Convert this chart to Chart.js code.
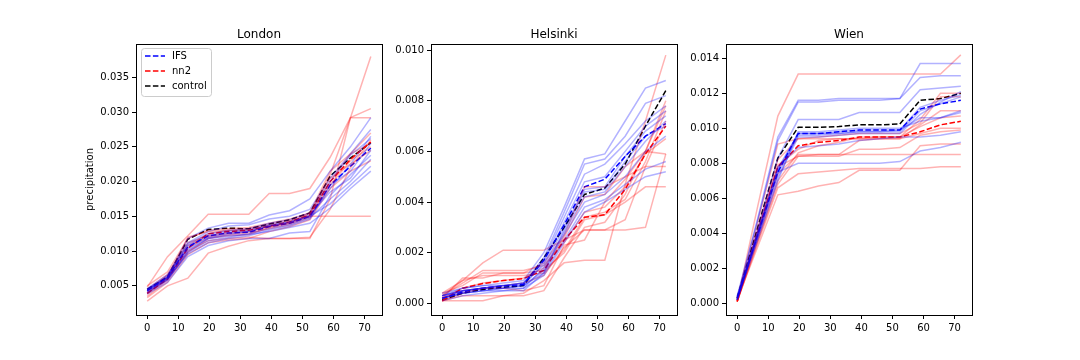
<!DOCTYPE html>
<html>
<head>
<meta charset="utf-8">
<script src="https://cdn.jsdelivr.net/npm/chart.js@4"></script>
<style>
  body { margin: 0; background: #fff; width: 1080px; height: 360px; overflow: hidden; }
  .panel { position: absolute; top: 0; }
</style>
</head>
<body>
<div class="panel" style="left:80px"><canvas id="london" width="312" height="360"></canvas></div>
<div class="panel" style="left:395px"><canvas id="helsinki" width="292" height="360"></canvas></div>
<div class="panel" style="left:690px"><canvas id="wien" width="292" height="360"></canvas></div>
<script>
// lead times (hours)
const hours = [0, 6.55, 13.09, 19.64, 26.18, 32.73, 39.27, 45.82, 52.36, 58.91, 65.45, 72];

// London
const londonIFS = [
  [0.0045,0.0064,0.0118,0.0133,0.0140,0.0140,0.0152,0.0158,0.0175,0.0215,0.0250,0.0292],
  [0.0043,0.0062,0.0112,0.0128,0.0136,0.0138,0.0146,0.0150,0.0160,0.0205,0.0240,0.0275],
  [0.0040,0.0058,0.0100,0.0118,0.0124,0.0128,0.0136,0.0142,0.0150,0.0190,0.0225,0.0265],
  [0.0046,0.0066,0.0110,0.0125,0.0130,0.0132,0.0140,0.0145,0.0155,0.0200,0.0238,0.0262],
  [0.0042,0.0060,0.0096,0.0112,0.0118,0.0122,0.0130,0.0136,0.0146,0.0195,0.0215,0.0255],
  [0.0044,0.0063,0.0108,0.0122,0.0128,0.0130,0.0138,0.0142,0.0152,0.0185,0.0205,0.0245],
  [0.0038,0.0055,0.0092,0.0108,0.0115,0.0118,0.0118,0.0126,0.0128,0.0180,0.0210,0.0238],
  [0.0041,0.0059,0.0098,0.0115,0.0120,0.0125,0.0132,0.0138,0.0148,0.0175,0.0200,0.0232],
  [0.0045,0.0062,0.0105,0.0120,0.0126,0.0128,0.0136,0.0140,0.0150,0.0168,0.0195,0.0222],
  [0.0043,0.0061,0.0102,0.0118,0.0122,0.0124,0.0128,0.0134,0.0140,0.0162,0.0190,0.0215]
];
const londonNN2 = [
  [0.0028,0.0050,0.0061,0.0097,0.0107,0.0115,0.0118,0.0118,0.0118,0.0175,0.0292,0.0380],
  [0.0048,0.0092,0.0122,0.0153,0.0153,0.0153,0.0183,0.0183,0.0190,0.0235,0.0292,0.0305],
  [0.0040,0.0062,0.0120,0.0128,0.0130,0.0130,0.0136,0.0140,0.0150,0.0150,0.0150,0.0150],
  [0.0035,0.0058,0.0098,0.0118,0.0122,0.0124,0.0134,0.0140,0.0152,0.0210,0.0292,0.0292],
  [0.0042,0.0065,0.0108,0.0125,0.0130,0.0132,0.0138,0.0144,0.0150,0.0200,0.0240,0.0270],
  [0.0038,0.0060,0.0100,0.0115,0.0118,0.0120,0.0118,0.0118,0.0120,0.0160,0.0220,0.0260],
  [0.0050,0.0070,0.0118,0.0130,0.0132,0.0134,0.0140,0.0146,0.0155,0.0205,0.0225,0.0245],
  [0.0033,0.0055,0.0095,0.0112,0.0116,0.0118,0.0128,0.0135,0.0145,0.0190,0.0215,0.0230],
  [0.0045,0.0066,0.0112,0.0122,0.0126,0.0128,0.0135,0.0142,0.0155,0.0215,0.0240,0.0255],
  [0.0039,0.0061,0.0104,0.0120,0.0124,0.0126,0.0132,0.0138,0.0148,0.0195,0.0230,0.0250]
];
const londonIfsMean = [0.0043,0.0062,0.0106,0.0122,0.0126,0.0127,0.0135,0.0140,0.0150,0.0195,0.0222,0.0248];
const londonNn2Mean = [0.0039,0.0060,0.0104,0.0125,0.0128,0.0130,0.0136,0.0142,0.0152,0.0200,0.0232,0.0257];
const londonControl = [0.0045,0.0063,0.0117,0.0131,0.0133,0.0132,0.0139,0.0145,0.0155,0.0208,0.0234,0.0256];

// Helsinki
const helsinkiIFS = [
  [0.0003,0.0006,0.0007,0.0008,0.0009,0.0020,0.0038,0.0057,0.0059,0.0072,0.0085,0.0088],
  [0.0002,0.0005,0.0006,0.0007,0.0008,0.0018,0.0036,0.0055,0.0057,0.0066,0.0079,0.0082],
  [0.0003,0.0005,0.0006,0.0007,0.0008,0.0017,0.0034,0.0051,0.0055,0.0063,0.0072,0.0078],
  [0.0002,0.0004,0.0005,0.0006,0.0007,0.0016,0.0032,0.0048,0.0050,0.0060,0.0070,0.0076],
  [0.0004,0.0006,0.0007,0.0007,0.0008,0.0015,0.0030,0.0045,0.0046,0.0058,0.0068,0.0074],
  [0.0002,0.0004,0.0005,0.0006,0.0006,0.0014,0.0028,0.0042,0.0044,0.0054,0.0064,0.0072],
  [0.0003,0.0005,0.0006,0.0006,0.0007,0.0013,0.0027,0.0040,0.0043,0.0050,0.0060,0.0066],
  [0.0001,0.0003,0.0004,0.0005,0.0005,0.0012,0.0025,0.0038,0.0041,0.0047,0.0053,0.0056],
  [0.0002,0.0004,0.0005,0.0005,0.0006,0.0011,0.0024,0.0036,0.0040,0.0045,0.0050,0.0052],
  [0.0003,0.0005,0.0006,0.0007,0.0007,0.0012,0.0029,0.0044,0.0045,0.0056,0.0066,0.0070]
];
const helsinkiNN2 = [
  [0.0001,0.0003,0.0003,0.0003,0.0004,0.0009,0.0016,0.0017,0.0017,0.0047,0.0072,0.0098],
  [0.0004,0.0009,0.0016,0.0021,0.0021,0.0021,0.0025,0.0029,0.0029,0.0029,0.0030,0.0059],
  [0.0002,0.0010,0.0010,0.0012,0.0012,0.0013,0.0020,0.0033,0.0035,0.0040,0.0046,0.0046],
  [0.0003,0.0008,0.0013,0.0013,0.0013,0.0015,0.0024,0.0036,0.0038,0.0046,0.0059,0.0065],
  [0.0001,0.0001,0.0001,0.0003,0.0003,0.0005,0.0018,0.0030,0.0032,0.0043,0.0060,0.0078],
  [0.0004,0.0007,0.0012,0.0012,0.0012,0.0016,0.0027,0.0046,0.0046,0.0050,0.0054,0.0054],
  [0.0002,0.0006,0.0008,0.0009,0.0010,0.0014,0.0026,0.0042,0.0043,0.0054,0.0060,0.0059],
  [0.0001,0.0004,0.0006,0.0007,0.0008,0.0011,0.0022,0.0029,0.0029,0.0033,0.0054,0.0072],
  [0.0003,0.0009,0.0011,0.0011,0.0011,0.0012,0.0021,0.0034,0.0036,0.0041,0.0056,0.0076],
  [0.0002,0.0005,0.0006,0.0006,0.0005,0.0007,0.0023,0.0025,0.0040,0.0049,0.0060,0.0080]
];
const helsinkiIfsMean = [0.0002,0.00045,0.0006,0.00068,0.00075,0.0017,0.0031,0.0046,0.0049,0.0058,0.0066,0.0071];
const helsinkiNn2Mean = [0.0001,0.0006,0.00078,0.0009,0.00098,0.0013,0.0025,0.0034,0.0035,0.0045,0.0059,0.0070];
const helsinkiControl = [0.00013,0.0004,0.00055,0.00063,0.0007,0.0018,0.0030,0.0043,0.00455,0.0055,0.0070,0.0084];

// Wien
const wienIFS = [
  [0.0004,0.0048,0.0095,0.0116,0.0116,0.0117,0.0117,0.0117,0.0117,0.0137,0.0137,0.0137],
  [0.0003,0.0047,0.0093,0.0115,0.0115,0.0116,0.0116,0.0116,0.0117,0.0129,0.0130,0.0130],
  [0.0002,0.0042,0.0083,0.0105,0.0105,0.0105,0.0109,0.0109,0.0109,0.0122,0.0123,0.0124],
  [0.0003,0.0038,0.0075,0.0080,0.0080,0.0080,0.0080,0.0080,0.0081,0.0087,0.0089,0.0092],
  [0.0002,0.0040,0.0078,0.0089,0.0090,0.0091,0.0093,0.0094,0.0095,0.0095,0.0096,0.0098],
  [0.0004,0.0040,0.0076,0.0097,0.0097,0.0098,0.0099,0.0099,0.0099,0.0106,0.0106,0.0109],
  [0.0002,0.0038,0.0074,0.0096,0.0096,0.0097,0.0098,0.0098,0.0098,0.0110,0.0114,0.0118],
  [0.0003,0.0037,0.0072,0.0095,0.0095,0.0096,0.0097,0.0097,0.0097,0.0108,0.0115,0.0121],
  [0.0002,0.0036,0.0070,0.0098,0.0098,0.0099,0.0100,0.0100,0.0100,0.0104,0.0106,0.0110],
  [0.0003,0.0039,0.0077,0.0097,0.0097,0.0097,0.0098,0.0098,0.0099,0.0112,0.0116,0.0119]
];
const wienNN2 = [
  [0.0001,0.0055,0.0107,0.0131,0.0131,0.0131,0.0131,0.0131,0.0131,0.0131,0.0131,0.0142],
  [0.0002,0.0032,0.0062,0.0064,0.0067,0.0069,0.0076,0.0076,0.0076,0.0090,0.0091,0.0091],
  [0.0001,0.0034,0.0066,0.0074,0.0075,0.0076,0.0077,0.0077,0.0077,0.0077,0.0078,0.0078],
  [0.0003,0.0046,0.0091,0.0094,0.0094,0.0094,0.0094,0.0094,0.0094,0.0097,0.0100,0.0100],
  [0.0002,0.0040,0.0078,0.0084,0.0085,0.0085,0.0085,0.0085,0.0085,0.0085,0.0085,0.0085],
  [0.0001,0.0038,0.0074,0.0085,0.0085,0.0085,0.0093,0.0094,0.0094,0.0102,0.0110,0.0110],
  [0.0002,0.0040,0.0079,0.0088,0.0093,0.0094,0.0094,0.0095,0.0095,0.0105,0.0120,0.0120],
  [0.0001,0.0036,0.0070,0.0086,0.0090,0.0092,0.0095,0.0095,0.0095,0.0101,0.0106,0.0107],
  [0.0002,0.0042,0.0082,0.0094,0.0095,0.0096,0.0097,0.0097,0.0097,0.0103,0.0118,0.0118],
  [0.0001,0.0035,0.0068,0.0084,0.0084,0.0084,0.0088,0.0088,0.0089,0.0096,0.0098,0.0099]
];
const wienIfsMean = [0.0002,0.0039,0.0075,0.0097,0.0097,0.0098,0.0099,0.0099,0.0099,0.0111,0.0114,0.0116];
const wienNn2Mean = [0.0001,0.0040,0.0078,0.0090,0.0092,0.0093,0.0095,0.0095,0.0095,0.0098,0.0102,0.0104];
const wienControl = [0.0003,0.0043,0.0083,0.01006,0.01006,0.0101,0.0102,0.0102,0.01025,0.0116,0.0117,0.0120];

const legendLabels = ["IFS", "nn2", "control"];
const DASH = [5.5, 2.4];

Chart.defaults.font.family = "'DejaVu Sans', sans-serif";
Chart.defaults.font.size = 10;
Chart.defaults.color = "#000";

const toPoints = (ys) => ys.map((y, i) => ({ x: hours[i], y: y }));

// axes frame, title above the plot and (optionally) legend inside it
const framePlugin = {
  id: "frame",
  afterDraw(chart, args, opts) {
    const { ctx, chartArea: a } = chart;
    ctx.save();
    ctx.strokeStyle = "#000";
    ctx.lineWidth = 1;
    ctx.strokeRect(Math.round(a.left) + 0.5, Math.round(a.top) + 0.5,
      Math.round(a.right - a.left), Math.round(a.bottom - a.top));

    ctx.fillStyle = "#000";
    ctx.font = "12px 'DejaVu Sans'";
    ctx.textAlign = "center";
    ctx.textBaseline = "alphabetic";
    ctx.fillText(opts.title, (a.left + a.right) / 2, a.top - 6);

    if (opts.legend) {
      const x0 = a.left + 5, y0 = a.top + 4, w = 70, h = 48;
      ctx.beginPath();
      ctx.roundRect(x0 + 0.5, y0 + 0.5, w, h, 3);
      ctx.fillStyle = "rgba(255,255,255,0.8)";
      ctx.fill();
      ctx.strokeStyle = "#cccccc";
      ctx.stroke();
      const colors = ["#0000ff", "#ff0000", "#000000"];
      legendLabels.forEach((lab, i) => {
        const yy = y0 + 8 + i * 15;
        ctx.beginPath();
        ctx.setLineDash(DASH);
        ctx.strokeStyle = colors[i];
        ctx.lineWidth = 1.5;
        ctx.moveTo(x0 + 4, yy);
        ctx.lineTo(x0 + 24, yy);
        ctx.stroke();
        ctx.setLineDash([]);
        ctx.fillStyle = "#000";
        ctx.font = "10px 'DejaVu Sans'";
        ctx.textAlign = "left";
        ctx.textBaseline = "middle";
        ctx.fillText(lab, x0 + 31, yy);
      });
    }
    ctx.restore();
  }
};

function makeChart(id, title, yMin, yMax, yStep, ifsMembers, nn2Members, ifsMean, nn2Mean, control, yAxisWidth, yLabel, legend) {
  const datasets = [];
  ifsMembers.forEach(m => datasets.push({ data: toPoints(m), borderColor: "rgba(0,0,255,0.3)", borderWidth: 1.5 }));
  nn2Members.forEach(m => datasets.push({ data: toPoints(m), borderColor: "rgba(255,0,0,0.3)", borderWidth: 1.5 }));
  datasets.push({ data: toPoints(ifsMean), borderColor: "#0000ff", borderWidth: 1.5, borderDash: DASH });
  datasets.push({ data: toPoints(nn2Mean), borderColor: "#ff0000", borderWidth: 1.5, borderDash: DASH });
  datasets.push({ data: toPoints(control), borderColor: "#000000", borderWidth: 1.5, borderDash: DASH });

  const tickGrid = { display: true, drawOnChartArea: false, drawTicks: true, tickLength: 4, color: "#000", lineWidth: 1 };

  new Chart(document.getElementById(id), {
    type: "line",
    data: { datasets: datasets },
    options: {
      responsive: false,
      animation: false,
      devicePixelRatio: 1,
      events: [],
      elements: { point: { radius: 0 }, line: { tension: 0, fill: false } },
      layout: { padding: { top: 44, right: 10, left: 0, bottom: 0 } },
      plugins: {
        legend: { display: false },
        tooltip: { enabled: false },
        frame: { title: title, legend: legend }
      },
      scales: {
        x: {
          type: "linear",
          min: -3.6,
          max: 75.6,
          grid: tickGrid,
          border: { display: false },
          ticks: { stepSize: 10, includeBounds: false, padding: 3, maxRotation: 0, autoSkip: false },
          afterFit: (s) => { s.height = 45; }
        },
        y: {
          min: yMin,
          max: yMax,
          grid: tickGrid,
          border: { display: false },
          ticks: { stepSize: yStep, includeBounds: false, padding: 3, autoSkip: false,
                   callback: (v) => v.toFixed(3) },
          title: { display: !!yLabel, text: yLabel, padding: { top: 4, bottom: 0 }, font: { size: 10 } },
          afterFit: (s) => { s.width = yAxisWidth; }
        }
      }
    },
    plugins: [framePlugin]
  });
}

makeChart("london", "London", 0.0008, 0.0398, 0.005,
  londonIFS, londonNN2, londonIfsMean, londonNn2Mean, londonControl, 56, "precipitation", true);
makeChart("helsinki", "Helsinki", -0.00046, 0.01024, 0.002,
  helsinkiIFS, helsinkiNN2, helsinkiIfsMean, helsinkiNn2Mean, helsinkiControl, 36, "", false);
makeChart("wien", "Wien", -0.00067, 0.01482, 0.002,
  wienIFS, wienNN2, wienIfsMean, wienNn2Mean, wienControl, 36, "", false);
</script>
</body>
</html>
